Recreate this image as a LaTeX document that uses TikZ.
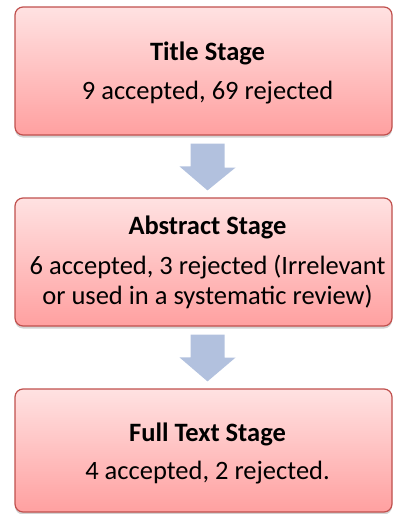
\documentclass[tikz,border=0pt]{standalone}
\usepackage{fontspec}
\setmainfont{Carlito}
\usetikzlibrary{shadows,calc}
\definecolor{boxtop}{HTML}{FFE2E2}
\definecolor{boxbot}{HTML}{FFA0A0}
\definecolor{boxline}{HTML}{C0504D}
\definecolor{arrowc}{HTML}{B2C1DE}
\begin{document}
\begin{tikzpicture}[x=1pt,y=1pt,
 stagebox/.style={draw=boxline, line width=1.2pt, rounded corners=8pt,
   top color=boxtop, bottom color=boxbot, minimum width=377pt, inner sep=0pt,
   drop shadow={shadow xshift=0pt, shadow yshift=-2.5pt, opacity=0.35}},
 stagetext/.style={anchor=base, inner sep=0pt, font=\fontsize{26.5}{30}\selectfont},
 blockarrow/.style={fill=arrowc, draw=none}]
\useasboundingbox (0,0) rectangle (394,-514);
% boxes
\node[stagebox, minimum height=128pt] (b1) at (203.5,-71) {};
\node[stagebox, minimum height=128pt] (b2) at (203.5,-262) {};
\node[stagebox, minimum height=123pt] (b3) at (203.5,-450.5) {};
% texts
\node[stagetext] (t1a) at ($(b1.north)+(4,-54)$) {\textbf{Title Stage}};
\node[stagetext] (t1b) at ($(b1.north)+(4,-93)$) {9 accepted, 69 rejected};
\node[stagetext] (t2a) at ($(b2.north)+(4,-37)$) {\textbf{Abstract Stage}};
\node[stagetext] (t2b) at ($(b2.north)+(4,-77)$) {6 accepted, 3 rejected (Irrelevant};
\node[stagetext] (t2c) at ($(b2.north)+(4,-107)$) {or used in a systematic review)};
\node[stagetext] (t3a) at ($(b3.north)+(4,-53)$) {\textbf{Full Text Stage}};
\node[stagetext] (t3b) at ($(b3.north)+(4,-91)$) {4 accepted, 2 rejected.};
% block arrows
\fill[blockarrow] ($(b1.south)+(4,0)+(-17,-8)$) -- ++(34,0) -- ++(0,-24) -- ++(11,0)
   -- ($(b2.north)+(4,7)$) -- ++(-28,24) -- ++(11,0) -- cycle;
\fill[blockarrow] ($(b2.south)+(4,0)+(-17,-8)$) -- ++(34,0) -- ++(0,-23) -- ++(11,0)
   -- ($(b3.north)+(4,7)$) -- ++(-28,24) -- ++(11,0) -- cycle;
\end{tikzpicture}
\end{document}
